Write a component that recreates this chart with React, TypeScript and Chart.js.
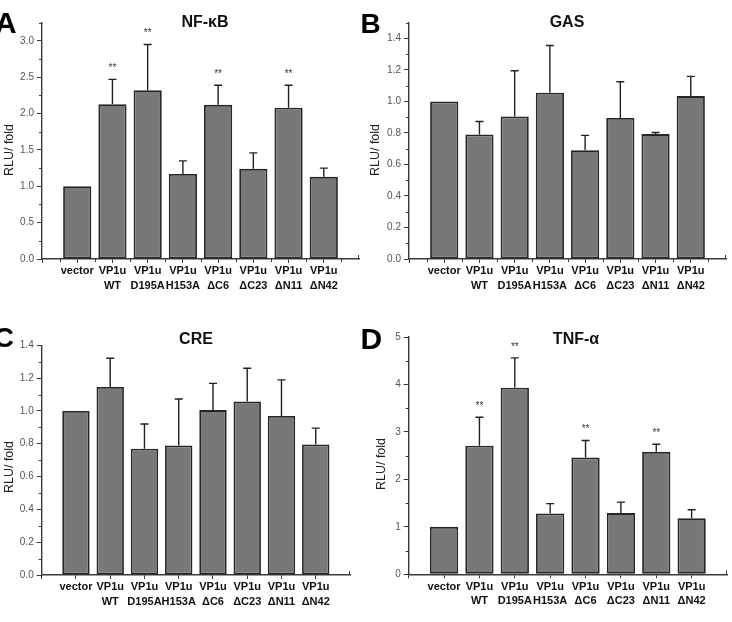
import React, { useEffect, useRef } from 'react';
import { Chart, registerables } from 'chart.js';

Chart.register(...registerables);

// ---------- data ----------
const categories: string[][] = [
  ['vector'],
  ['VP1u', 'WT'],
  ['VP1u', 'D195A'],
  ['VP1u', 'H153A'],
  ['VP1u', 'ΔC6'],
  ['VP1u', 'ΔC23'],
  ['VP1u', 'ΔN11'],
  ['VP1u', 'ΔN42'],
];

const nfkbMeans = [1.0, 2.13, 2.32, 1.17, 2.12, 1.24, 2.08, 1.13];
const nfkbSD = [0, 0.34, 0.63, 0.18, 0.27, 0.22, 0.31, 0.12];
const nfkbSig = ['', '**', '**', '', '**', '', '**', ''];

const gasMeans = [1.0, 0.79, 0.905, 1.055, 0.69, 0.895, 0.793, 1.034];
const gasSD = [0, 0.083, 0.29, 0.30, 0.095, 0.23, 0.01, 0.125];
const gasSig = ['', '', '', '', '', '', '', ''];

const creMeans = [1.0, 1.146, 0.77, 0.79, 1.005, 1.057, 0.969, 0.795];
const creSD = [0, 0.175, 0.15, 0.283, 0.163, 0.203, 0.22, 0.10];
const creSig = ['', '', '', '', '', '', '', ''];

const tnfMeans = [1.0, 2.71, 3.93, 1.28, 2.46, 1.29, 2.58, 1.18];
const tnfSD = [0, 0.6, 0.63, 0.21, 0.36, 0.23, 0.16, 0.18];
const tnfSig = ['', '**', '**', '', '**', '', '**', ''];

const panelLetters = ['A', 'B', 'C', 'D'];
const panelTitles = ['NF-κB', 'GAS', 'CRE', 'TNF-α'];
const yAxisTitle = 'RLU/ fold';

// ---------- layout / style ----------
const W = 366;
const H = 311;
const FONT = '"Liberation Sans", Arial, Helvetica, sans-serif';
const AXIS = '#3a3a3a';

type Panel = {
  means: number[];
  sd: number[];
  sig: string[];
  title: string;
  letter: string;
  yMax: number;
  yStep: number;
  decimals: number;
  area: { left: number; right: number; top: number; bottom: number };
  titlePos: { x: number; y: number };
  yLabelPos: { x: number; y: number };
  pos: { left: number; top: number };
  letterPos: { left: number; top: number; size: number };
  minorX: boolean;
};

const panels: Panel[] = [
  {
    means: nfkbMeans, sd: nfkbSD, sig: nfkbSig, title: panelTitles[0], letter: panelLetters[0],
    yMax: 3.25, yStep: 0.5, decimals: 1,
    area: { left: 42, right: 359, top: 22.7, bottom: 259 },
    titlePos: { x: 205, y: 23 }, yLabelPos: { x: 10, y: 150 },
    pos: { left: 0, top: 0 }, letterPos: { left: -5, top: 7.5, size: 30 }, minorX: true,
  },
  {
    means: gasMeans, sd: gasSD, sig: gasSig, title: panelTitles[1], letter: panelLetters[1],
    yMax: 1.5, yStep: 0.2, decimals: 1,
    area: { left: 43, right: 360, top: 22.7, bottom: 259 },
    titlePos: { x: 201, y: 23 }, yLabelPos: { x: 10, y: 150 },
    pos: { left: 366, top: 0 }, letterPos: { left: 360.5, top: 9.5, size: 28 }, minorX: true,
  },
  {
    means: creMeans, sd: creSD, sig: creSig, title: panelTitles[2], letter: panelLetters[2],
    yMax: 1.4, yStep: 0.2, decimals: 1,
    area: { left: 41.7, right: 350, top: 34.3, bottom: 264 },
    titlePos: { x: 196, y: 28.5 }, yLabelPos: { x: 9.5, y: 156 },
    pos: { left: 0, top: 311 }, letterPos: { left: -6.3, top: 323.5, size: 28 }, minorX: false,
  },
  {
    means: tnfMeans, sd: tnfSD, sig: tnfSig, title: panelTitles[3], letter: panelLetters[3],
    yMax: 5, yStep: 1, decimals: 0,
    area: { left: 42.7, right: 361, top: 26, bottom: 263.3 },
    titlePos: { x: 210, y: 28.5 }, yLabelPos: { x: 16, y: 153 },
    pos: { left: 366, top: 311 }, letterPos: { left: 360.5, top: 324, size: 30 }, minorX: false,
  },
];

function makeDecor(p: Panel) {
  return {
    id: 'panelDecor',
    afterDatasetsDraw(chart: any) {
      const { ctx } = chart;
      const xs = chart.scales.x;
      const ys = chart.scales.y;
      const meta = chart.getDatasetMeta(0);
      ctx.save();
      // error bars + significance marks
      meta.data.forEach((bar: any, i: number) => {
        const mean = p.means[i];
        const sd = p.sd[i];
        const base = ys.getPixelForValue(mean);
        const top = ys.getPixelForValue(mean + sd);
        if (sd > 0) {
          ctx.strokeStyle = '#222';
          ctx.lineWidth = 1.4;
          ctx.beginPath();
          ctx.moveTo(bar.x, base);
          ctx.lineTo(bar.x, top);
          ctx.moveTo(bar.x - 4, top);
          ctx.lineTo(bar.x + 4, top);
          ctx.stroke();
        }
        if (p.sig[i]) {
          ctx.fillStyle = '#333';
          ctx.font = `10px ${FONT}`;
          ctx.textAlign = 'center';
          ctx.textBaseline = 'alphabetic';
          ctx.fillText(p.sig[i], bar.x, top - 14 + 5.8);
        }
      });
      // minor ticks on y
      ctx.strokeStyle = AXIS;
      ctx.lineWidth = 1;
      const half = p.yStep / 2;
      ctx.beginPath();
      for (let v = half; v < p.yMax + 1e-9; v += p.yStep) {
        const py = Math.round(ys.getPixelForValue(v)) + 0.5;
        ctx.moveTo(xs.left - 3, py);
        ctx.lineTo(xs.left, py);
      }
      // minor ticks on x
      if (p.minorX) {
        for (let v = -0.5; v < 8; v += 1) {
          const px = Math.round(xs.getPixelForValue(v)) + 0.5;
          ctx.moveTo(px, ys.bottom);
          ctx.lineTo(px, ys.bottom + 3);
        }
      }
      // end tick (pointing up)
      const ex = Math.round(xs.getPixelForValue(8)) - 0.5;
      ctx.moveTo(ex, ys.bottom);
      ctx.lineTo(ex, ys.bottom - 4);
      ctx.stroke();
      // panel title
      ctx.fillStyle = '#111';
      ctx.font = `bold 16px ${FONT}`;
      ctx.textAlign = 'center';
      ctx.textBaseline = 'middle';
      ctx.fillText(p.title, p.titlePos.x, p.titlePos.y);
      // y axis title
      ctx.translate(p.yLabelPos.x, p.yLabelPos.y);
      ctx.rotate(-Math.PI / 2);
      ctx.font = `12.5px ${FONT}`;
      ctx.fillStyle = '#222';
      ctx.fillText(yAxisTitle, 0, 0);
      ctx.restore();
    },
  };
}

function PanelChart({ p }: { p: Panel }) {
  const ref = useRef<HTMLCanvasElement | null>(null);
  useEffect(() => {
    if (!ref.current) return;
    const chart = new Chart(ref.current, {
      type: 'bar',
      data: {
        datasets: [
          {
            data: p.means.map((m, i) => ({ x: i, y: m })),
            backgroundColor: '#787878',
            borderColor: '#262626',
            borderWidth: 1.8,
            borderSkipped: false,
            categoryPercentage: 1,
            barPercentage: 0.8,
          } as any,
        ],
      },
      options: {
        responsive: false,
        animation: false,
        events: [],
        layout: { padding: { left: 0, top: p.area.top, right: W - p.area.right, bottom: 0 } },
        plugins: { legend: { display: false }, tooltip: { enabled: false }, title: { display: false } },
        scales: {
          x: {
            type: 'linear',
            min: -1,
            max: 8,
            offset: false,
            afterFit: (s: any) => {
              s.height = H - p.area.bottom;
            },
            grid: {
              display: true,
              offset: false,
              drawOnChartArea: false,
              drawTicks: true,
              tickLength: 4,
              tickWidth: 1,
              tickColor: (c: any) => (c.tick && c.tick.value === 8 ? 'rgba(0,0,0,0)' : AXIS),
            },
            border: { display: true, color: AXIS, width: 1.4 },
            ticks: {
              stepSize: 1,
              autoSkip: false,
              maxRotation: 0,
              minRotation: 0,
              padding: 1,
              color: '#111',
              font: { family: FONT, size: 11, weight: 'bold', lineHeight: 1.33 },
              callback: (v: any) => {
                const n = Number(v);
                return Number.isInteger(n) && n >= 0 && n < categories.length ? categories[n] : '';
              },
            },
          },
          y: {
            min: 0,
            max: p.yMax,
            afterFit: (s: any) => {
              s.width = p.area.left;
            },
            grid: { display: true, drawOnChartArea: false, drawTicks: true, tickLength: 5, tickWidth: 1, tickColor: AXIS },
            border: { display: true, color: AXIS, width: 1.4 },
            ticks: {
              stepSize: p.yStep,
              includeBounds: false,
              autoSkip: false,
              padding: 3,
              color: '#555',
              font: { family: FONT, size: 10 },
              callback: (v: any) => Number(v).toFixed(p.decimals),
            },
          },
        },
      } as any,
      plugins: [makeDecor(p)],
    });
    return () => chart.destroy();
  }, [p]);
  return (
    <canvas
      ref={ref}
      width={W}
      height={H}
      style={{ position: 'absolute', left: p.pos.left, top: p.pos.top, width: W, height: H }}
    />
  );
}

export default function App() {
  return (
    <div style={{ position: 'absolute', left: 0, top: 0, width: 732, height: 622, background: '#fff', overflow: 'hidden' }}>
      {panels.map((p, i) => (
        <PanelChart key={i} p={p} />
      ))}
      {panels.map((p, i) => (
        <div
          key={'l' + i}
          style={{
            position: 'absolute',
            left: p.letterPos.left,
            top: p.letterPos.top,
            fontFamily: FONT,
            fontWeight: 'bold',
            fontSize: p.letterPos.size,
            lineHeight: p.letterPos.size + 'px',
            color: '#000',
            zIndex: 2,
          }}
        >
          {p.letter}
        </div>
      ))}
    </div>
  );
}
